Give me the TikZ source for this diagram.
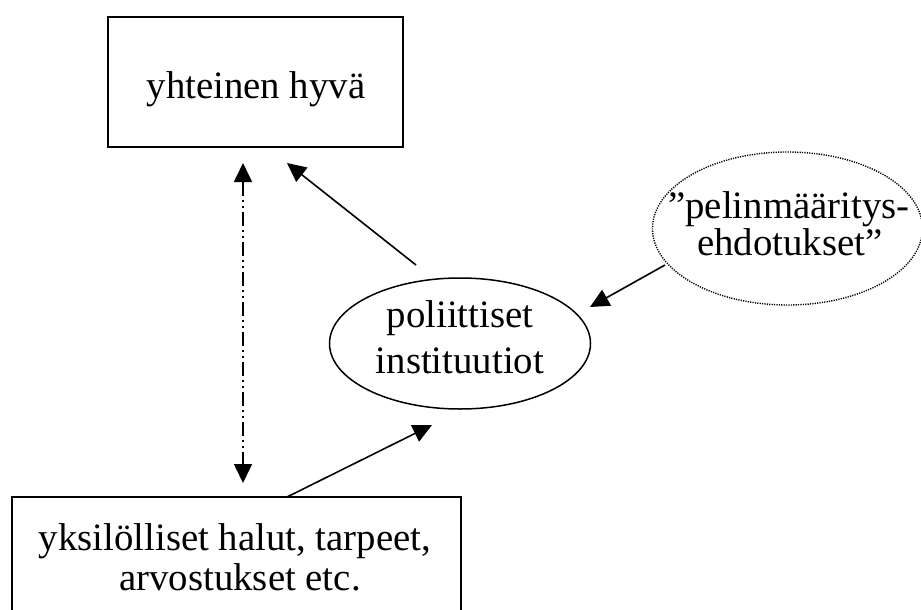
\documentclass[tikz,border=0pt]{standalone}
\usepackage{fontspec}
\setmainfont{Liberation Serif}
\usetikzlibrary{arrows.meta,shapes.geometric}
\begin{document}
\begin{tikzpicture}[x=1pt,y=-1pt,
  txt/.style={font=\fontsize{38.8}{40}\selectfont, align=center, inner sep=0pt},
  box/.style={draw, line width=1.8pt, inner sep=0pt},
  conn/.style={line width=1.6pt, -{Triangle[length=19pt,width=18pt]}},
  dbl/.style={line width=1.6pt, {Triangle[length=19pt,width=18pt]}-{Triangle[length=19pt,width=18pt]},
    dash pattern=on 14pt off 4pt on 2pt off 4pt on 2pt off 4pt},
]
\useasboundingbox (0,0) rectangle (921,610);
\fill[white] (0,0) rectangle (921,610);

% shapes
\node[box, minimum width=295pt, minimum height=130pt] (top) at (255.5,82) {};
\node[box, minimum width=449pt, minimum height=133pt] (bot) at (236.5,563.5) {};
\node[draw, ellipse, line width=1.5pt, inner sep=0pt, minimum width=261pt, minimum height=131pt] (pol) at (460,343.5) {};
\node[draw, ellipse, line width=1.4pt, dash pattern=on 1.2pt off 1.2pt, inner sep=0pt, minimum width=270pt, minimum height=153pt] (pel) at (787.5,228.5) {};

% texts
\node[txt, anchor=base] (toptxt) at (256,98) {yhteinen hyvä};
\node[txt, anchor=base] (bottxt1) at (235,550) {yksilölliset halut, tarpeet,};
\node[txt, anchor=base] (bottxt2) at (240,590) {arvostukset etc.};
\node[txt, anchor=base] (poltxt1) at (460,327) {poliittiset};
\node[txt, anchor=base] (poltxt2) at (460,373) {instituutiot};
\node[txt, anchor=base] (peltxt1) at (789,218) {”pelinmääritys-};
\node[txt, anchor=base] (peltxt2) at (790,255) {ehdotukset”};

% connector end points
\coordinate (vtop) at (243,163);
\coordinate (vbot) at (243,483);
\coordinate (p2t) at (416,265);
\coordinate (t2p) at (287,163);
\coordinate (b2p) at (287,497);
\coordinate (p2b) at (432,425);
\coordinate (e2p) at (665,265);
\coordinate (p2e) at (590,307);

% connectors
\draw[dbl] (vtop) -- (vbot);
\draw[conn] (p2t) -- (t2p);
\draw[conn] (b2p) -- (p2b);
\draw[conn] (e2p) -- (p2e);
\end{tikzpicture}
\end{document}
